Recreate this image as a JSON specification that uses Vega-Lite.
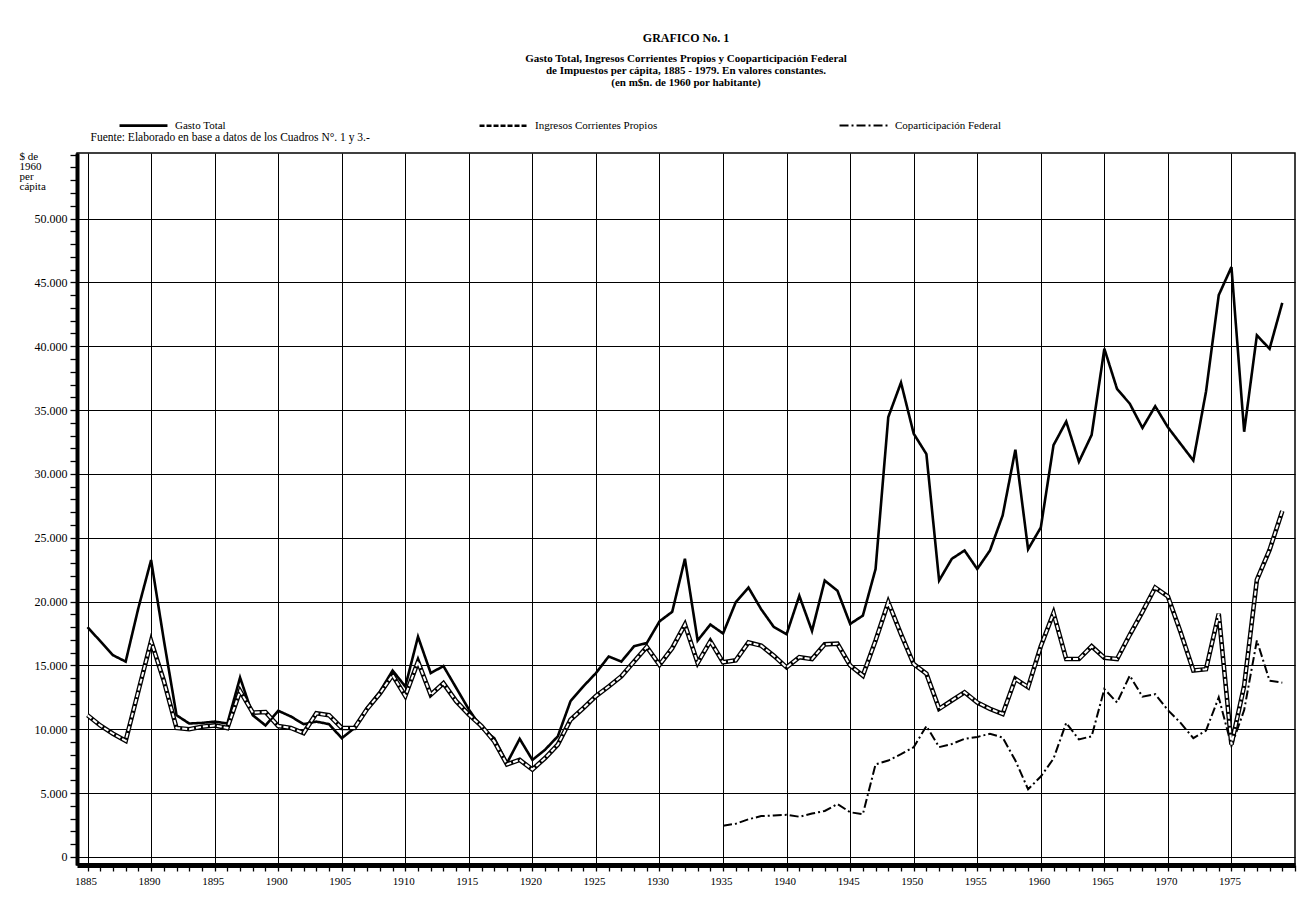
{
  "$schema": "https://vega.github.io/schema/vega-lite/v6.json",
  "width": 1218,
  "height": 712,
  "autosize": {"type": "none"},
  "padding": {"left": 77, "top": 153, "right": 16, "bottom": 46},
  "background": "white",
  "config": {
    "font": "Liberation Serif",
    "view": {"stroke": "black", "strokeWidth": 1.5}
  },
  "title": {
    "text": "GRAFICO No. 1",
    "subtitle": [
      "Gasto Total, Ingresos Corrientes Propios y Cooparticipación Federal",
      "de Impuestos per cápita, 1885 - 1979. En valores constantes.",
      "(en m$n. de 1960 por habitante)"
    ],
    "anchor": "middle",
    "frame": "group",
    "font": "Liberation Serif",
    "fontSize": 12,
    "fontWeight": "bold",
    "color": "black",
    "subtitleFont": "Liberation Serif",
    "subtitleFontSize": 11,
    "subtitleFontWeight": "bold",
    "subtitleColor": "black",
    "subtitlePadding": 8,
    "subtitleLineHeight": 12,
    "offset": 11
  },
  "data": {
    "values": [
      {"year": 1885, "series": "Gasto Total", "value": 18000},
      {"year": 1886, "series": "Gasto Total", "value": 16900},
      {"year": 1887, "series": "Gasto Total", "value": 15800},
      {"year": 1888, "series": "Gasto Total", "value": 15300},
      {"year": 1889, "series": "Gasto Total", "value": 19500},
      {"year": 1890, "series": "Gasto Total", "value": 23250},
      {"year": 1891, "series": "Gasto Total", "value": 17000},
      {"year": 1892, "series": "Gasto Total", "value": 11100},
      {"year": 1893, "series": "Gasto Total", "value": 10450},
      {"year": 1894, "series": "Gasto Total", "value": 10500},
      {"year": 1895, "series": "Gasto Total", "value": 10600},
      {"year": 1896, "series": "Gasto Total", "value": 10450},
      {"year": 1897, "series": "Gasto Total", "value": 14050},
      {"year": 1898, "series": "Gasto Total", "value": 11100},
      {"year": 1899, "series": "Gasto Total", "value": 10300},
      {"year": 1900, "series": "Gasto Total", "value": 11450},
      {"year": 1901, "series": "Gasto Total", "value": 11000},
      {"year": 1902, "series": "Gasto Total", "value": 10400},
      {"year": 1903, "series": "Gasto Total", "value": 10600},
      {"year": 1904, "series": "Gasto Total", "value": 10400},
      {"year": 1905, "series": "Gasto Total", "value": 9300},
      {"year": 1906, "series": "Gasto Total", "value": 10100},
      {"year": 1907, "series": "Gasto Total", "value": 11700},
      {"year": 1908, "series": "Gasto Total", "value": 12950},
      {"year": 1909, "series": "Gasto Total", "value": 14600},
      {"year": 1910, "series": "Gasto Total", "value": 13350},
      {"year": 1911, "series": "Gasto Total", "value": 17250},
      {"year": 1912, "series": "Gasto Total", "value": 14400},
      {"year": 1913, "series": "Gasto Total", "value": 14950},
      {"year": 1914, "series": "Gasto Total", "value": 13250},
      {"year": 1915, "series": "Gasto Total", "value": 11550},
      {"year": 1916, "series": "Gasto Total", "value": 10100},
      {"year": 1917, "series": "Gasto Total", "value": 9300},
      {"year": 1918, "series": "Gasto Total", "value": 7350},
      {"year": 1919, "series": "Gasto Total", "value": 9250},
      {"year": 1920, "series": "Gasto Total", "value": 7600},
      {"year": 1921, "series": "Gasto Total", "value": 8400},
      {"year": 1922, "series": "Gasto Total", "value": 9450},
      {"year": 1923, "series": "Gasto Total", "value": 12200},
      {"year": 1924, "series": "Gasto Total", "value": 13350},
      {"year": 1925, "series": "Gasto Total", "value": 14400},
      {"year": 1926, "series": "Gasto Total", "value": 15700},
      {"year": 1927, "series": "Gasto Total", "value": 15300},
      {"year": 1928, "series": "Gasto Total", "value": 16500},
      {"year": 1929, "series": "Gasto Total", "value": 16750},
      {"year": 1930, "series": "Gasto Total", "value": 18450},
      {"year": 1931, "series": "Gasto Total", "value": 19200},
      {"year": 1932, "series": "Gasto Total", "value": 23350},
      {"year": 1933, "series": "Gasto Total", "value": 16950},
      {"year": 1934, "series": "Gasto Total", "value": 18200},
      {"year": 1935, "series": "Gasto Total", "value": 17500},
      {"year": 1936, "series": "Gasto Total", "value": 19950},
      {"year": 1937, "series": "Gasto Total", "value": 21100},
      {"year": 1938, "series": "Gasto Total", "value": 19400},
      {"year": 1939, "series": "Gasto Total", "value": 18000},
      {"year": 1940, "series": "Gasto Total", "value": 17450},
      {"year": 1941, "series": "Gasto Total", "value": 20450},
      {"year": 1942, "series": "Gasto Total", "value": 17700},
      {"year": 1943, "series": "Gasto Total", "value": 21650},
      {"year": 1944, "series": "Gasto Total", "value": 20850},
      {"year": 1945, "series": "Gasto Total", "value": 18250},
      {"year": 1946, "series": "Gasto Total", "value": 18900},
      {"year": 1947, "series": "Gasto Total", "value": 22550},
      {"year": 1948, "series": "Gasto Total", "value": 34450},
      {"year": 1949, "series": "Gasto Total", "value": 37150},
      {"year": 1950, "series": "Gasto Total", "value": 33150},
      {"year": 1951, "series": "Gasto Total", "value": 31550},
      {"year": 1952, "series": "Gasto Total", "value": 21650},
      {"year": 1953, "series": "Gasto Total", "value": 23350},
      {"year": 1954, "series": "Gasto Total", "value": 24000},
      {"year": 1955, "series": "Gasto Total", "value": 22550},
      {"year": 1956, "series": "Gasto Total", "value": 24000},
      {"year": 1957, "series": "Gasto Total", "value": 26750},
      {"year": 1958, "series": "Gasto Total", "value": 31900},
      {"year": 1959, "series": "Gasto Total", "value": 24100},
      {"year": 1960, "series": "Gasto Total", "value": 25800},
      {"year": 1961, "series": "Gasto Total", "value": 32250},
      {"year": 1962, "series": "Gasto Total", "value": 34100},
      {"year": 1963, "series": "Gasto Total", "value": 30950},
      {"year": 1964, "series": "Gasto Total", "value": 33050},
      {"year": 1965, "series": "Gasto Total", "value": 39800},
      {"year": 1966, "series": "Gasto Total", "value": 36650},
      {"year": 1967, "series": "Gasto Total", "value": 35500},
      {"year": 1968, "series": "Gasto Total", "value": 33600},
      {"year": 1969, "series": "Gasto Total", "value": 35300},
      {"year": 1970, "series": "Gasto Total", "value": 33650},
      {"year": 1971, "series": "Gasto Total", "value": 32350},
      {"year": 1972, "series": "Gasto Total", "value": 31050},
      {"year": 1973, "series": "Gasto Total", "value": 36450},
      {"year": 1974, "series": "Gasto Total", "value": 44000},
      {"year": 1975, "series": "Gasto Total", "value": 46200},
      {"year": 1976, "series": "Gasto Total", "value": 33300},
      {"year": 1977, "series": "Gasto Total", "value": 40850},
      {"year": 1978, "series": "Gasto Total", "value": 39800},
      {"year": 1979, "series": "Gasto Total", "value": 43400},
      {"year": 1885, "series": "Ingresos Corrientes Propios", "value": 11100},
      {"year": 1886, "series": "Ingresos Corrientes Propios", "value": 10300},
      {"year": 1887, "series": "Ingresos Corrientes Propios", "value": 9650},
      {"year": 1888, "series": "Ingresos Corrientes Propios", "value": 9100},
      {"year": 1889, "series": "Ingresos Corrientes Propios", "value": 13000},
      {"year": 1890, "series": "Ingresos Corrientes Propios", "value": 16900},
      {"year": 1891, "series": "Ingresos Corrientes Propios", "value": 13800},
      {"year": 1892, "series": "Ingresos Corrientes Propios", "value": 10100},
      {"year": 1893, "series": "Ingresos Corrientes Propios", "value": 10000},
      {"year": 1894, "series": "Ingresos Corrientes Propios", "value": 10200},
      {"year": 1895, "series": "Ingresos Corrientes Propios", "value": 10300},
      {"year": 1896, "series": "Ingresos Corrientes Propios", "value": 10100},
      {"year": 1897, "series": "Ingresos Corrientes Propios", "value": 13000},
      {"year": 1898, "series": "Ingresos Corrientes Propios", "value": 11300},
      {"year": 1899, "series": "Ingresos Corrientes Propios", "value": 11350},
      {"year": 1900, "series": "Ingresos Corrientes Propios", "value": 10250},
      {"year": 1901, "series": "Ingresos Corrientes Propios", "value": 10100},
      {"year": 1902, "series": "Ingresos Corrientes Propios", "value": 9700},
      {"year": 1903, "series": "Ingresos Corrientes Propios", "value": 11250},
      {"year": 1904, "series": "Ingresos Corrientes Propios", "value": 11100},
      {"year": 1905, "series": "Ingresos Corrientes Propios", "value": 10100},
      {"year": 1906, "series": "Ingresos Corrientes Propios", "value": 10100},
      {"year": 1907, "series": "Ingresos Corrientes Propios", "value": 11600},
      {"year": 1908, "series": "Ingresos Corrientes Propios", "value": 12800},
      {"year": 1909, "series": "Ingresos Corrientes Propios", "value": 14250},
      {"year": 1910, "series": "Ingresos Corrientes Propios", "value": 12600},
      {"year": 1911, "series": "Ingresos Corrientes Propios", "value": 15300},
      {"year": 1912, "series": "Ingresos Corrientes Propios", "value": 12700},
      {"year": 1913, "series": "Ingresos Corrientes Propios", "value": 13600},
      {"year": 1914, "series": "Ingresos Corrientes Propios", "value": 12200},
      {"year": 1915, "series": "Ingresos Corrientes Propios", "value": 11150},
      {"year": 1916, "series": "Ingresos Corrientes Propios", "value": 10250},
      {"year": 1917, "series": "Ingresos Corrientes Propios", "value": 9050},
      {"year": 1918, "series": "Ingresos Corrientes Propios", "value": 7250},
      {"year": 1919, "series": "Ingresos Corrientes Propios", "value": 7600},
      {"year": 1920, "series": "Ingresos Corrientes Propios", "value": 6850},
      {"year": 1921, "series": "Ingresos Corrientes Propios", "value": 7750},
      {"year": 1922, "series": "Ingresos Corrientes Propios", "value": 8800},
      {"year": 1923, "series": "Ingresos Corrientes Propios", "value": 10750},
      {"year": 1924, "series": "Ingresos Corrientes Propios", "value": 11650},
      {"year": 1925, "series": "Ingresos Corrientes Propios", "value": 12600},
      {"year": 1926, "series": "Ingresos Corrientes Propios", "value": 13350},
      {"year": 1927, "series": "Ingresos Corrientes Propios", "value": 14150},
      {"year": 1928, "series": "Ingresos Corrientes Propios", "value": 15300},
      {"year": 1929, "series": "Ingresos Corrientes Propios", "value": 16450},
      {"year": 1930, "series": "Ingresos Corrientes Propios", "value": 15050},
      {"year": 1931, "series": "Ingresos Corrientes Propios", "value": 16350},
      {"year": 1932, "series": "Ingresos Corrientes Propios", "value": 18200},
      {"year": 1933, "series": "Ingresos Corrientes Propios", "value": 15200},
      {"year": 1934, "series": "Ingresos Corrientes Propios", "value": 16900},
      {"year": 1935, "series": "Ingresos Corrientes Propios", "value": 15250},
      {"year": 1936, "series": "Ingresos Corrientes Propios", "value": 15400},
      {"year": 1937, "series": "Ingresos Corrientes Propios", "value": 16800},
      {"year": 1938, "series": "Ingresos Corrientes Propios", "value": 16550},
      {"year": 1939, "series": "Ingresos Corrientes Propios", "value": 15750},
      {"year": 1940, "series": "Ingresos Corrientes Propios", "value": 14850},
      {"year": 1941, "series": "Ingresos Corrientes Propios", "value": 15650},
      {"year": 1942, "series": "Ingresos Corrientes Propios", "value": 15500},
      {"year": 1943, "series": "Ingresos Corrientes Propios", "value": 16650},
      {"year": 1944, "series": "Ingresos Corrientes Propios", "value": 16700},
      {"year": 1945, "series": "Ingresos Corrientes Propios", "value": 15000},
      {"year": 1946, "series": "Ingresos Corrientes Propios", "value": 14200},
      {"year": 1947, "series": "Ingresos Corrientes Propios", "value": 16950},
      {"year": 1948, "series": "Ingresos Corrientes Propios", "value": 19950},
      {"year": 1949, "series": "Ingresos Corrientes Propios", "value": 17450},
      {"year": 1950, "series": "Ingresos Corrientes Propios", "value": 15100},
      {"year": 1951, "series": "Ingresos Corrientes Propios", "value": 14350},
      {"year": 1952, "series": "Ingresos Corrientes Propios", "value": 11600},
      {"year": 1953, "series": "Ingresos Corrientes Propios", "value": 12250},
      {"year": 1954, "series": "Ingresos Corrientes Propios", "value": 12900},
      {"year": 1955, "series": "Ingresos Corrientes Propios", "value": 12100},
      {"year": 1956, "series": "Ingresos Corrientes Propios", "value": 11600},
      {"year": 1957, "series": "Ingresos Corrientes Propios", "value": 11200},
      {"year": 1958, "series": "Ingresos Corrientes Propios", "value": 13950},
      {"year": 1959, "series": "Ingresos Corrientes Propios", "value": 13300},
      {"year": 1960, "series": "Ingresos Corrientes Propios", "value": 16500},
      {"year": 1961, "series": "Ingresos Corrientes Propios", "value": 19100},
      {"year": 1962, "series": "Ingresos Corrientes Propios", "value": 15500},
      {"year": 1963, "series": "Ingresos Corrientes Propios", "value": 15500},
      {"year": 1964, "series": "Ingresos Corrientes Propios", "value": 16500},
      {"year": 1965, "series": "Ingresos Corrientes Propios", "value": 15600},
      {"year": 1966, "series": "Ingresos Corrientes Propios", "value": 15500},
      {"year": 1967, "series": "Ingresos Corrientes Propios", "value": 17400},
      {"year": 1968, "series": "Ingresos Corrientes Propios", "value": 19200},
      {"year": 1969, "series": "Ingresos Corrientes Propios", "value": 21100},
      {"year": 1970, "series": "Ingresos Corrientes Propios", "value": 20400},
      {"year": 1971, "series": "Ingresos Corrientes Propios", "value": 17600},
      {"year": 1972, "series": "Ingresos Corrientes Propios", "value": 14600},
      {"year": 1973, "series": "Ingresos Corrientes Propios", "value": 14700},
      {"year": 1974, "series": "Ingresos Corrientes Propios", "value": 19050},
      {"year": 1975, "series": "Ingresos Corrientes Propios", "value": 8800},
      {"year": 1976, "series": "Ingresos Corrientes Propios", "value": 13400},
      {"year": 1977, "series": "Ingresos Corrientes Propios", "value": 21700},
      {"year": 1978, "series": "Ingresos Corrientes Propios", "value": 24050},
      {"year": 1979, "series": "Ingresos Corrientes Propios", "value": 27100},
      {"year": 1935, "series": "Coparticipación Federal", "value": 2450},
      {"year": 1936, "series": "Coparticipación Federal", "value": 2600},
      {"year": 1937, "series": "Coparticipación Federal", "value": 2950},
      {"year": 1938, "series": "Coparticipación Federal", "value": 3200},
      {"year": 1939, "series": "Coparticipación Federal", "value": 3250},
      {"year": 1940, "series": "Coparticipación Federal", "value": 3300},
      {"year": 1941, "series": "Coparticipación Federal", "value": 3150},
      {"year": 1942, "series": "Coparticipación Federal", "value": 3400},
      {"year": 1943, "series": "Coparticipación Federal", "value": 3600},
      {"year": 1944, "series": "Coparticipación Federal", "value": 4150},
      {"year": 1945, "series": "Coparticipación Federal", "value": 3500},
      {"year": 1946, "series": "Coparticipación Federal", "value": 3350},
      {"year": 1947, "series": "Coparticipación Federal", "value": 7250},
      {"year": 1948, "series": "Coparticipación Federal", "value": 7550},
      {"year": 1949, "series": "Coparticipación Federal", "value": 8050},
      {"year": 1950, "series": "Coparticipación Federal", "value": 8600},
      {"year": 1951, "series": "Coparticipación Federal", "value": 10250},
      {"year": 1952, "series": "Coparticipación Federal", "value": 8600},
      {"year": 1953, "series": "Coparticipación Federal", "value": 8850},
      {"year": 1954, "series": "Coparticipación Federal", "value": 9250},
      {"year": 1955, "series": "Coparticipación Federal", "value": 9400},
      {"year": 1956, "series": "Coparticipación Federal", "value": 9650},
      {"year": 1957, "series": "Coparticipación Federal", "value": 9350},
      {"year": 1958, "series": "Coparticipación Federal", "value": 7550},
      {"year": 1959, "series": "Coparticipación Federal", "value": 5300},
      {"year": 1960, "series": "Coparticipación Federal", "value": 6300},
      {"year": 1961, "series": "Coparticipación Federal", "value": 7700},
      {"year": 1962, "series": "Coparticipación Federal", "value": 10500},
      {"year": 1963, "series": "Coparticipación Federal", "value": 9200},
      {"year": 1964, "series": "Coparticipación Federal", "value": 9450},
      {"year": 1965, "series": "Coparticipación Federal", "value": 13150},
      {"year": 1966, "series": "Coparticipación Federal", "value": 12100},
      {"year": 1967, "series": "Coparticipación Federal", "value": 14200},
      {"year": 1968, "series": "Coparticipación Federal", "value": 12550},
      {"year": 1969, "series": "Coparticipación Federal", "value": 12750},
      {"year": 1970, "series": "Coparticipación Federal", "value": 11500},
      {"year": 1971, "series": "Coparticipación Federal", "value": 10500},
      {"year": 1972, "series": "Coparticipación Federal", "value": 9300},
      {"year": 1973, "series": "Coparticipación Federal", "value": 9900},
      {"year": 1974, "series": "Coparticipación Federal", "value": 12500},
      {"year": 1975, "series": "Coparticipación Federal", "value": 8700},
      {"year": 1976, "series": "Coparticipación Federal", "value": 11500},
      {"year": 1977, "series": "Coparticipación Federal", "value": 16950},
      {"year": 1978, "series": "Coparticipación Federal", "value": 13800},
      {"year": 1979, "series": "Coparticipación Federal", "value": 13650}
    ]
  },
  "layer": [
    {
      "transform": [{"filter": "datum.series === 'Ingresos Corrientes Propios'"}],
      "mark": {"type": "line", "color": "black", "strokeWidth": 4.6},
      "encoding": {
        "x": {
          "field": "year",
          "type": "quantitative",
          "scale": {"domain": [1884.17, 1980], "nice": false, "zero": false},
          "axis": {
            "orient": "bottom",
            "title": null,
            "tickCount": 300,
            "values": [1885,1886,1887,1888,1889,1890,1891,1892,1893,1894,1895,1896,1897,1898,1899,1900,1901,1902,1903,1904,1905,1906,1907,1908,1909,1910,1911,1912,1913,1914,1915,1916,1917,1918,1919,1920,1921,1922,1923,1924,1925,1926,1927,1928,1929,1930,1931,1932,1933,1934,1935,1936,1937,1938,1939,1940,1941,1942,1943,1944,1945,1946,1947,1948,1949,1950,1951,1952,1953,1954,1955,1956,1957,1958,1959,1960,1961,1962,1963,1964,1965,1966,1967,1968,1969,1970,1971,1972,1973,1974,1975,1976,1977,1978,1979,1980],
            "labelExpr": "(datum.value % 5 === 0 && datum.value <= 1975) ? '' + datum.value : ''",
            "labelOverlap": false,
            "labelFlush": false,
            "labelBound": false,
            "labelFont": "Liberation Serif",
            "labelFontSize": 11,
            "labelColor": "black",
            "labelPadding": 4,
            "labelOffset": -2,
            "grid": true,
            "gridColor": "black",
            "gridWidth": 1,
            "gridOpacity": {"condition": {"test": "datum.value % 5 === 0 && datum.value < 1980", "value": 1}, "value": 0},
            "ticks": true,
            "tickSize": 6,
            "tickWidth": 1.3,
            "tickColor": "black",
            "domain": true,
            "domainColor": "black",
            "domainWidth": 5
          }
        },
        "y": {
          "field": "value",
          "type": "quantitative",
          "scale": {"domain": [-630, 55130], "nice": false, "zero": false},
          "axis": {
            "orient": "left",
            "tickCount": 300,
            "values": [0,1000,2000,3000,4000,5000,6000,7000,8000,9000,10000,11000,12000,13000,14000,15000,16000,17000,18000,19000,20000,21000,22000,23000,24000,25000,26000,27000,28000,29000,30000,31000,32000,33000,34000,35000,36000,37000,38000,39000,40000,41000,42000,43000,44000,45000,46000,47000,48000,49000,50000,51000,52000,53000,54000,55000],
            "labelExpr": "(datum.value % 5000 === 0 && datum.value <= 50000) ? replace(format(datum.value, ','), ',', '.') : ''",
            "labelOverlap": false,
            "labelFlush": false,
            "labelBound": false,
            "labelFont": "Liberation Serif",
            "labelFontSize": 12,
            "labelColor": "black",
            "labelPadding": 3,
            "grid": true,
            "gridColor": "black",
            "gridWidth": 1,
            "gridOpacity": {"condition": {"test": "datum.value % 5000 === 0 && datum.value <= 50000", "value": 1}, "value": 0},
            "ticks": true,
            "tickSize": 7,
            "tickWidth": 1.3,
            "tickColor": "black",
            "domain": true,
            "domainColor": "black",
            "domainWidth": 4,
            "title": ["$ de", "1960", "per", "cápita"],
            "titleAngle": 0,
            "titleAlign": "left",
            "titleBaseline": "top",
            "titleX": -58,
            "titleY": -3,
            "titleFont": "Liberation Serif",
            "titleFontSize": 11,
            "titleFontWeight": "normal",
            "titleLineHeight": 10,
            "titleColor": "black"
          }
        }
      }
    },
    {
      "mark": {"type": "line", "color": "black"},
      "encoding": {
        "x": {
          "field": "year",
          "type": "quantitative",
          "axis": {
            "orient": "top",
            "grid": false,
            "ticks": false,
            "labels": false,
            "domain": false,
            "title": "Fuente: Elaborado en base a datos de los Cuadros N°. 1 y 3.-",
            "titleX": 13,
            "titleY": -13,
            "titleAngle": 0,
            "titleAlign": "left",
            "titleBaseline": "alphabetic",
            "titleFont": "Liberation Serif",
            "titleFontSize": 11.5,
            "titleFontWeight": "normal",
            "titleColor": "black"
          }
        },
        "y": {"field": "value", "type": "quantitative"},
        "strokeDash": {
          "field": "series",
          "type": "nominal",
          "scale": {
            "domain": ["Gasto Total", "Ingresos Corrientes Propios", "Coparticipación Federal"],
            "range": [[1, 0], [5, 2], [9, 3, 2, 3]]
          },
          "legend": {
            "title": null,
            "orient": "none",
            "legendX": 41,
            "legendY": -53,
            "direction": "horizontal",
            "columns": 3,
            "gridAlign": "all",
            "columnPadding": 176,
            "symbolType": "stroke",
            "symbolSize": 2300,
            "symbolStrokeColor": "black",
            "labelFont": "Liberation Serif",
            "labelFontSize": 11,
            "labelColor": "black",
            "labelOffset": 6,
            "padding": 0
          }
        },
        "strokeWidth": {
          "field": "series",
          "type": "nominal",
          "scale": {
            "domain": ["Gasto Total", "Ingresos Corrientes Propios", "Coparticipación Federal"],
            "range": [2.6, 2, 1.6]
          }
        }
      }
    },
    {
      "transform": [{"filter": "datum.series === 'Ingresos Corrientes Propios'"}],
      "mark": {"type": "line", "color": "white", "strokeWidth": 2, "strokeDash": [5, 2]},
      "encoding": {
        "x": {"field": "year", "type": "quantitative", "axis": null},
        "y": {"field": "value", "type": "quantitative"}
      }
    }
  ],
  "resolve": {"axis": {"x": "independent"}}
}
